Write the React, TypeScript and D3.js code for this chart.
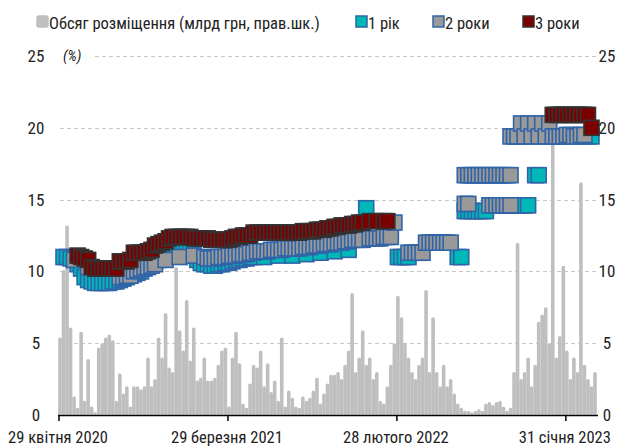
import React, { useRef, useEffect } from "react";
import * as d3 from "d3";

// weekly auction index on x; tick labels at given indices
const tickLabels = ["29 квітня 2020", "29 березня 2021", "28 лютого 2022", "31 січня 2023"];
const tickIndex = [0, 48, 96, 144];
const weeks = 153;

// placement volume, bn UAH (right axis), one bar per week
const volume = [
  5.4, 10.1, 13.2, 6.1, 1.3, 0.5, 5.8, 1.0, 3.9, 0.6, 0.2, 4.7, 5.0, 5.4, 5.6, 5.2, 1.0, 2.9, 1.5, 2.0,
  0.6, 2.0, 2.0, 1.8, 2.0, 4.0, 2.0, 2.5, 5.4, 4.0, 7.1, 3.3, 3.0, 10.3, 5.9, 4.5, 8.0, 3.8, 6.1, 2.4,
  2.6, 4.0, 2.4, 2.4, 2.6, 3.5, 4.5, 4.7, 0.6, 4.0, 5.8, 3.6, 0.8, 0.5, 2.2, 3.5, 3.3, 4.5, 2.0, 3.6,
  1.6, 2.4, 1.0, 5.4, 0.6, 1.7, 1.2, 0.6, 0.5, 1.3, 1.0, 1.2, 1.7, 2.6, 0.8, 1.5, 2.2, 2.8, 2.8, 3.0,
  2.5, 3.5, 4.5, 8.5, 3.0, 4.0, 5.9, 3.5, 4.0, 2.5, 3.0, 1.0, 0.8, 2.0, 3.5, 5.0, 8.3, 6.8, 5.0, 4.0,
  3.0, 2.5, 3.5, 4.0, 8.7, 3.0, 6.8, 3.0, 2.0, 3.5, 2.0, 2.5, 1.5, 0.8, 0.5, 0.3, 0.3, 0.2, 0.3, 0.4,
  0.3, 0.8, 0.9, 0.7, 0.9, 1.0, 0.6, 0.3, 0.5, 3.0, 12.0, 2.5, 3.0, 4.0, 2.0, 3.5, 6.5, 7.0, 7.5, 5.0,
  19.0, 4.0, 5.5, 10.4, 4.5, 2.5, 4.0, 3.0, 16.2, 3.5, 2.5, 2.0, 3.0,
];

// yields, % : [week index, value]
const y1: [number, number][] = [
  [1, 11.0], [2, 11.0], [3, 10.9], [4, 10.8], [5, 10.5], [6, 10.2], [7, 9.6], [8, 9.4], [9, 9.3], [10, 9.2],
  [11, 9.2], [12, 9.2], [13, 9.2], [14, 9.2], [15, 9.3], [16, 9.3], [17, 9.4], [18, 9.5], [19, 9.6], [20, 9.7],
  [21, 9.8], [22, 9.9], [23, 10.0], [24, 10.2], [25, 10.4], [26, 10.5], [27, 10.7], [28, 10.8], [29, 10.9], [30, 11.0],
  [31, 11.1], [32, 11.2], [33, 11.3], [34, 11.4], [35, 11.4], [36, 11.4], [37, 11.3], [38, 11.1], [39, 10.8], [40, 10.6],
  [41, 10.5], [42, 10.5], [43, 10.4], [44, 10.4], [45, 10.5], [46, 10.5], [47, 10.6], [48, 10.6], [49, 10.7], [50, 10.8],
  [51, 10.8], [52, 10.9], [53, 10.9], [54, 11.0], [55, 11.0], [58, 11.0], [62, 11.1], [66, 11.1], [70, 11.2], [74, 11.3],
  [78, 11.4], [82, 11.5], [87, 14.4], [96, 11.0], [97, 11.0], [98, 11.0], [99, 11.0], [113, 11.0], [114, 11.0], [115, 14.2],
  [116, 14.2], [117, 14.2], [118, 14.2], [119, 14.2], [120, 14.2], [121, 14.2], [129, 14.6], [130, 14.6], [131, 14.6], [132, 14.6],
  [133, 14.6], [135, 16.7], [136, 16.7], [150, 19.4], [151, 19.4],
];

const y2: [number, number][] = [
  [4, 10.8], [8, 10.3], [12, 10.2], [17, 9.6], [18, 9.6], [19, 9.7], [20, 9.7], [21, 10.0], [22, 10.1], [23, 10.2],
  [24, 10.3], [25, 10.3], [26, 10.4], [27, 10.5], [30, 10.8], [34, 11.0], [38, 11.1], [41, 11.0], [42, 10.9], [43, 10.9],
  [44, 10.9], [45, 11.0], [46, 11.0], [47, 11.0], [48, 11.1], [49, 11.1], [50, 11.1], [51, 11.2], [52, 11.2], [53, 11.2],
  [54, 11.3], [55, 11.3], [56, 11.4], [57, 11.4], [58, 11.4], [59, 11.4], [60, 11.5], [61, 11.5], [62, 11.5], [63, 11.5],
  [64, 11.6], [65, 11.6], [66, 11.6], [67, 11.6], [68, 11.6], [69, 11.7], [70, 11.7], [71, 11.7], [72, 11.8], [73, 11.8],
  [74, 11.8], [75, 11.9], [76, 11.9], [77, 11.9], [78, 12.0], [79, 12.0], [80, 12.0], [81, 12.1], [82, 12.1], [83, 12.2],
  [84, 12.2], [85, 12.2], [86, 12.2], [88, 12.3], [89, 12.3], [90, 12.3], [91, 12.3], [92, 12.4], [93, 12.4], [94, 12.4],
  [95, 13.4], [99, 11.3], [100, 11.3], [101, 11.3], [102, 11.3], [103, 11.3], [104, 12.0], [105, 12.0], [106, 12.0], [107, 12.0],
  [108, 12.0], [109, 12.0], [110, 12.0], [111, 12.0], [115, 14.7], [116, 14.7], [115, 16.7], [116, 16.7], [117, 16.7], [118, 16.7],
  [119, 16.7], [120, 16.7], [121, 16.7], [122, 16.7], [123, 16.7], [124, 16.7], [125, 16.7], [126, 16.7], [127, 16.7], [128, 16.7],
  [122, 14.6], [123, 14.6], [124, 14.6], [125, 14.6], [126, 14.6], [127, 14.6], [128, 14.6],
  [128, 19.4], [129, 19.4], [130, 19.4], [131, 20.3], [132, 19.4], [133, 20.3], [134, 19.4], [135, 20.3], [136, 19.4], [137, 20.3],
  [138, 19.4], [139, 20.3], [140, 19.4], [141, 19.4], [142, 19.4], [143, 19.4], [144, 19.5], [145, 19.5], [146, 19.4], [147, 19.4],
  [148, 19.5], [149, 19.5],
];

const y3: [number, number][] = [
  [5, 11.1], [6, 11.0], [7, 10.9], [8, 10.8], [9, 10.3], [10, 10.2], [11, 10.2], [12, 10.2], [13, 10.2], [14, 10.2],
  [15, 10.2], [16, 10.2], [17, 10.7], [18, 10.7], [19, 10.7], [20, 10.8], [21, 11.3], [22, 11.3], [23, 11.3], [24, 11.3],
  [25, 11.4], [26, 11.5], [27, 11.8], [28, 11.9], [29, 12.0], [30, 12.1], [31, 12.3], [32, 12.4], [33, 12.4], [34, 12.4],
  [35, 12.4], [36, 12.4], [37, 12.4], [38, 12.3], [39, 12.3], [40, 12.3], [41, 12.3], [42, 12.3], [43, 12.2], [44, 12.2],
  [45, 12.2], [46, 12.2], [47, 12.2], [48, 12.2], [49, 12.3], [50, 12.4], [51, 12.4], [52, 12.5], [53, 12.5], [54, 12.5],
  [55, 12.7], [56, 12.7], [57, 12.7], [58, 12.7], [59, 12.7], [60, 12.7], [61, 12.7], [62, 12.7], [63, 12.7], [64, 12.7],
  [65, 12.7], [66, 12.7], [67, 12.7], [68, 12.7], [69, 12.8], [70, 12.8], [71, 12.8], [72, 12.8], [73, 12.9], [74, 12.9],
  [75, 12.9], [76, 13.0], [77, 13.0], [78, 13.1], [79, 13.1], [80, 13.2], [81, 13.2], [82, 13.2], [83, 13.3], [84, 13.3],
  [85, 13.4], [86, 13.4], [88, 13.5], [90, 13.5], [92, 13.5], [93, 13.5],
  [140, 20.9], [141, 20.9], [142, 20.9], [143, 20.9], [144, 20.9], [145, 20.9], [146, 20.9], [147, 20.9], [148, 20.9], [149, 20.9],
  [150, 20.9], [151, 20.0],
];

const W = 625;
const H = 448;
const margin = { top: 56, right: 30, bottom: 33, left: 60 };
const c1 = "#00b8b8";
const c2 = "#999999";
const c3 = "#7b0000";
const blue = "#2f64a8";
const barColor = "#bfbfbf";

export default function App() {
  const ref = useRef<SVGSVGElement>(null);

  useEffect(() => {
    const svg = d3.select(ref.current);
    svg.selectAll("*").remove();

    const x = d3.scaleLinear().domain([0, weeks - 1]).range([margin.left, W - margin.right]);
    const yL = d3.scaleLinear().domain([0, 25]).range([H - margin.bottom, margin.top]);
    const yR = d3.scaleLinear().domain([0, 25]).range([H - margin.bottom, margin.top]);
    const font = "'Liberation Sans Narrow', 'Roboto Condensed', Arial, sans-serif";

    // grid
    svg
      .append("g")
      .selectAll("line")
      .data([5, 10, 15, 20, 25])
      .join("line")
      .attr("x1", margin.left)
      .attr("x2", W - margin.right + 2)
      .attr("y1", (d) => Math.round(yL(d)) + 0.5)
      .attr("y2", (d) => Math.round(yL(d)) + 0.5)
      .attr("stroke", "#c8c8c8")
      .attr("stroke-dasharray", "4,3");

    // volume bars
    svg
      .append("g")
      .selectAll("rect")
      .data(volume)
      .join("rect")
      .attr("x", (_, i) => x(i) - 1.8)
      .attr("width", 3.6)
      .attr("y", (d) => yR(d))
      .attr("height", (d) => yR(0) - yR(d))
      .attr("rx", 1.8)
      .attr("fill", barColor);

    const s = 15;
    const drawSeries = (data: [number, number][], fill: string, stroke: string) => {
      svg
        .append("g")
        .selectAll("rect")
        .data(data)
        .join("rect")
        .attr("x", (d) => x(d[0]) - s / 2)
        .attr("y", (d) => yL(d[1]) - s / 2)
        .attr("width", s)
        .attr("height", s)
        .attr("fill", fill)
        .attr("stroke", stroke)
        .attr("stroke-width", 1.6);
    };
    drawSeries(y1, c1, blue);
    drawSeries(y2, c2, blue);
    drawSeries(y3, c3, "#333333");

    // x axis
    const xa = svg.append("g");
    xa.append("line")
      .attr("x1", margin.left - 2)
      .attr("x2", W - margin.right + 3)
      .attr("y1", yL(0) + 0.5)
      .attr("y2", yL(0) + 0.5)
      .attr("stroke", "#000")
      .attr("stroke-width", 1.5);
    tickIndex.forEach((t, k) => {
      xa.append("line")
        .attr("x1", x(t) - 1)
        .attr("x2", x(t) - 1)
        .attr("y1", yL(0))
        .attr("y2", yL(0) + 6)
        .attr("stroke", "#000")
        .attr("stroke-width", 1.5);
      xa.append("text")
        .attr("x", x(t) - 2)
        .attr("y", yL(0) + 28)
        .attr("text-anchor", "middle")
        .attr("font-family", font)
        .attr("font-size", 16.5)
        .attr("fill", "#222")
        .text(tickLabels[k]);
    });

    // y axes labels
    const ticks = [0, 5, 10, 15, 20, 25];
    svg
      .append("g")
      .selectAll("text")
      .data(ticks)
      .join("text")
      .attr("x", 36)
      .attr("y", (d) => yL(d) + 6)
      .attr("text-anchor", "middle")
      .attr("font-family", font)
      .attr("font-size", 17)
      .attr("fill", "#222")
      .text((d) => d);
    svg
      .append("g")
      .selectAll("text")
      .data(ticks)
      .join("text")
      .attr("x", 607)
      .attr("y", (d) => yR(d) + 6)
      .attr("text-anchor", "middle")
      .attr("font-family", font)
      .attr("font-size", 17)
      .attr("fill", "#222")
      .text((d) => d);
    svg
      .append("rect")
      .attr("x", 60)
      .attr("y", yL(25) - 8)
      .attr("width", 34)
      .attr("height", 16)
      .attr("fill", "#fff");
    svg
      .append("text")
      .attr("x", 63)
      .attr("y", yL(25) + 5)
      .attr("font-family", font)
      .attr("font-size", 15)
      .attr("font-style", "italic")
      .attr("fill", "#222")
      .text("(%)");

    // legend
    const legend = [
      { label: "Обсяг розміщення (млрд грн, прав.шк.)", fill: barColor, stroke: barColor, x: 36 },
      { label: "1 рік", fill: c1, stroke: blue, x: 355 },
      { label: "2 роки", fill: c2, stroke: blue, x: 432 },
      { label: "3 роки", fill: c3, stroke: "#333333", x: 522 },
    ];
    const lg = svg.append("g");
    legend.forEach((l) => {
      lg.append("rect")
        .attr("x", l.x + 1)
        .attr("y", 16)
        .attr("width", 11)
        .attr("height", 11)
        .attr("rx", l.stroke === l.fill ? 2 : 0)
        .attr("fill", l.fill)
        .attr("stroke", l.stroke)
        .attr("stroke-width", 1.5);
      lg.append("text")
        .attr("x", l.x + 13)
        .attr("y", 29)
        .attr("font-family", font)
        .attr("font-size", 16.5)
        .attr("fill", "#222")
        .text(l.label);
    });
  }, []);

  return (
    <svg
      ref={ref}
      width={W}
      height={H}
      style={{ position: "absolute", left: 0, top: 0, background: "#fff" }}
    />
  );
}
